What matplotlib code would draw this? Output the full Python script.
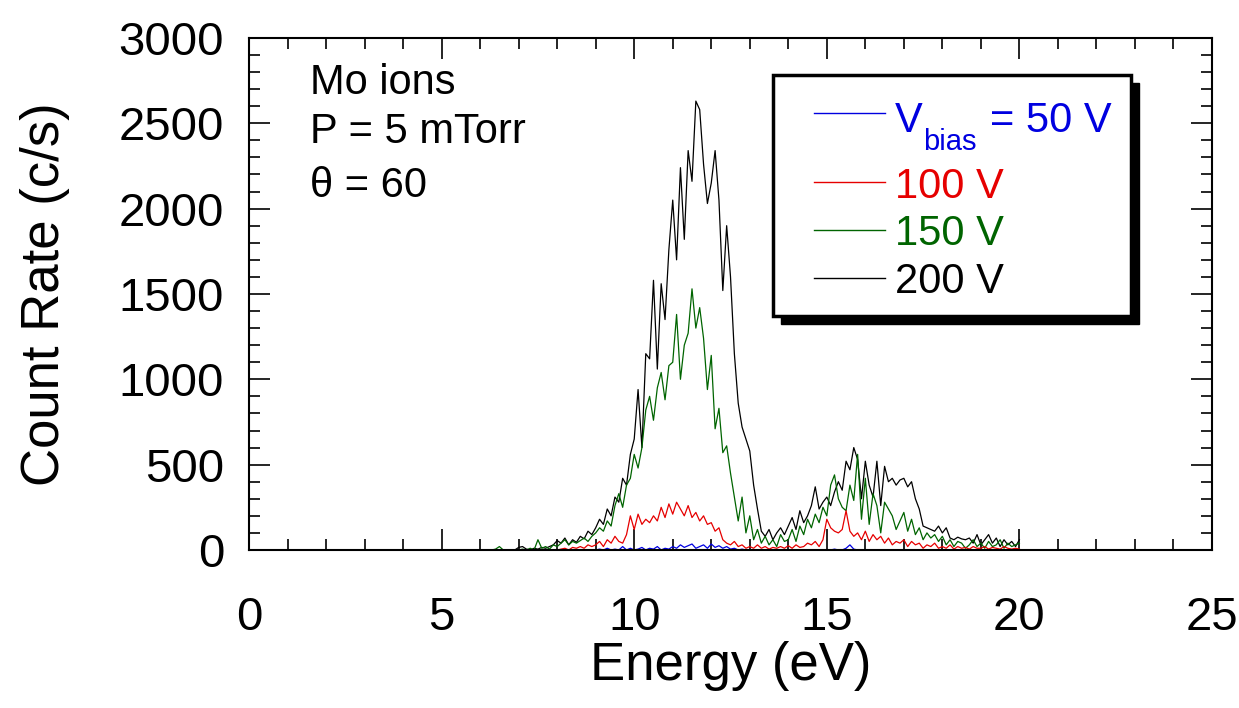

# plot.py - Mo ion energy distributions for different bias voltages

import numpy as np
import matplotlib
matplotlib.use('Agg')
import matplotlib.pyplot as plt
from matplotlib.patches import Rectangle
from matplotlib.ticker import MultipleLocator

plt.rcParams['font.family'] = ['Liberation Sans', 'DejaVu Sans']

# energy grid, 5 - 20 eV in 0.1 eV steps
energy = np.round(np.arange(5.0, 20.01, 0.1), 1)

# count rates (c/s)
black_200 = [0] * 20 + [
    15, 20, 5, 0, 10, 5, 15, 10, 20, 30,              # 7
    55, 40, 70, 30, 60, 45, 80, 65, 110, 90,          # 8
    130, 180, 150, 240, 200, 310, 280, 420, 380, 560,  # 9
    650, 940, 600, 1150, 1120, 1580, 1060, 1560, 1350, 1760,  # 10
    2050, 1700, 2240, 1820, 2340, 2160, 2630, 2580, 2260, 2030,  # 11
    2150, 2340, 2050, 1520, 1900, 1600, 1150, 860, 720, 650,  # 12
    580, 380, 240, 110, 80, 120, 60, 100, 130, 90,    # 13
    140, 190, 120, 230, 160, 200, 260, 370, 240, 280,  # 14
    310, 260, 340, 400, 350, 520, 470, 600, 530, 300,  # 15
    520, 380, 310, 520, 260, 490, 400, 420, 380, 410,  # 16
    420, 370, 400, 300, 240, 140, 130, 120, 110, 140,  # 17
    100, 130, 70, 60, 75, 65, 60, 70, 40, 90,         # 18
    30, 60, 90, 40, 70, 20, 60, 30, 50, 20,           # 19
    60]

green_150 = [0] * 10 + [
    0, 0, 0, 0, 5, 20, 0, 0, 0, 0,                    # 6
    0, 5, 0, 10, 0, 60, 10, 20, 5, 30,                # 7
    20, 40, 60, 30, 50, 40, 55, 70, 50, 80,           # 8
    100, 130, 110, 170, 140, 260, 330, 250, 380, 420,  # 9
    560, 480, 600, 820, 900, 760, 950, 1040, 880, 1080,  # 10
    1100, 1380, 1000, 1200, 1270, 1530, 1300, 1420, 1240, 940,  # 11
    1140, 710, 830, 570, 610, 450, 310, 170, 310, 100,  # 12
    200, 60, 120, 40, 80, 30, 60, 20, 90, 50,         # 13
    60, 120, 50, 140, 90, 180, 130, 210, 160, 250,    # 14
    200, 380, 440, 300, 250, 230, 380, 290, 560, 180,  # 15
    420, 150, 330, 260, 100, 280, 240, 200, 120, 170,  # 16
    220, 110, 180, 90, 130, 60, 100, 70, 90, 50,      # 17
    80, 30, 60, 20, 50, 40, 10, 30, 60, 20,           # 18
    40, 10, 50, 20, 30, 60, 10, 40, 20, 30,           # 19
    40]

red_100 = [0] * 30 + [
    0, 5, 10, 0, 15, 10, 20, 10, 30, 20,              # 8
    30, 50, 20, 60, 40, 80, 50, 40, 90, 200,          # 9
    120, 210, 150, 180, 160, 200, 170, 250, 190, 270,  # 10
    210, 280, 240, 200, 260, 190, 220, 170, 200, 150,  # 11
    160, 110, 130, 60, 40, 30, 50, 20, 30, 10,        # 12
    20, 10, 30, 10, 20, 5, 15, 10, 20, 10,            # 13
    25, 10, 30, 15, 20, 40, 30, 50, 20, 60,           # 14
    180, 130, 110, 100, 120, 230, 110, 80, 100, 60,   # 15
    110, 50, 90, 60, 80, 40, 70, 30, 50, 40,          # 16
    60, 20, 50, 30, 40, 10, 30, 20, 40, 10,           # 17
    20, 10, 30, 5, 20, 10, 15, 5, 20, 10,             # 18
    10, 20, 5, 15, 10, 5, 20, 10, 5, 10,              # 19
    5]

blue_50 = [0] * 40 + [
    0, 5, 0, 10, 0, 5, 0, 20, 0, 10,                  # 9
    0, 5, 15, 0, 10, 5, 20, 0, 10, 5,                 # 10
    20, 10, 30, 15, 25, 35, 10, 20, 30, 10,           # 11
    35, 15, 25, 10, 20, 5, 10, 0, 5, 0,               # 12
] + [0] * 20 + [
    0, 0, 5, 0, 0, 10, 30, 5, 0, 0,                   # 15
] + [0] * 41

labels = ['V', '100 V', '150 V', '200 V']   # first one gets "bias" subscript below
colors = ['#0000e0', '#e60000', '#006400', 'black']

fig = plt.figure(figsize=(12.39, 7.08), dpi=100)
ax = fig.add_axes([0.201, 0.2232, 0.7772, 0.7232])

# draw black first so the lower curves sit on top
for y, c in zip([black_200, green_150, red_100, blue_50], colors[::-1]):
    ax.plot(energy, y, color=c, lw=0.9)

ax.set_xlim(0, 25)
ax.set_ylim(0, 3000)
ax.xaxis.set_major_locator(MultipleLocator(5))
ax.xaxis.set_minor_locator(MultipleLocator(1))
ax.yaxis.set_major_locator(MultipleLocator(500))
ax.yaxis.set_minor_locator(MultipleLocator(100))
ax.tick_params(which='both', direction='in', top=True, right=True,
               labelsize=34, width=1.2)
ax.tick_params(which='major', length=15)
ax.tick_params(which='minor', length=8)
ax.tick_params(axis='x', pad=33)
ax.tick_params(axis='y', pad=18)
for s in ax.spines.values():
    s.set_linewidth(1.5)

fig.text(0.5895, 0.0395, 'Energy (eV)', fontsize=38, ha='center', va='baseline')
fig.text(0.036, 0.584, 'Count Rate (c/s)', fontsize=38, rotation=90,
         ha='center', va='center')

# annotation in upper left
for txt, yb in zip(['Mo ions', 'P = 5 mTorr', 'θ = 60'], [0.8906, 0.795, 0.6895]):
    ax.text(0.0633, yb, txt, transform=ax.transAxes, fontsize=30, va='baseline')

# hand-made legend box with drop shadow
bx, by, bw, bh = 0.544, 0.457, 0.372, 0.471
ax.add_patch(Rectangle((bx + 0.0083, by - 0.0156), bw, bh, transform=ax.transAxes,
                       facecolor='black', edgecolor='black', zorder=5, clip_on=False))
ax.add_patch(Rectangle((bx, by), bw, bh, transform=ax.transAxes,
                       facecolor='white', edgecolor='black', lw=2.5, zorder=6, clip_on=False))
line_y = [0.8535, 0.7188, 0.625, 0.5313]
text_y = [0.8164, 0.687, 0.5957, 0.502]
for lab, c, ly, ty in zip(labels, colors, line_y, text_y):
    ax.plot([0.5867, 0.6604], [ly, ly], transform=ax.transAxes, color=c, lw=1, zorder=7)
    ax.text(0.6708, ty, lab, transform=ax.transAxes, fontsize=30, color=c,
            va='baseline', zorder=7)
# V_bias: subscript sits well below the baseline in the original
ax.text(0.700, 0.7813, 'bias', transform=ax.transAxes, fontsize=21, color=colors[0],
        va='baseline', zorder=7)
ax.text(0.7695, 0.8164, '= 50 V', transform=ax.transAxes, fontsize=30, color=colors[0],
        va='baseline', zorder=7)

fig.savefig('out.png', dpi=100)
